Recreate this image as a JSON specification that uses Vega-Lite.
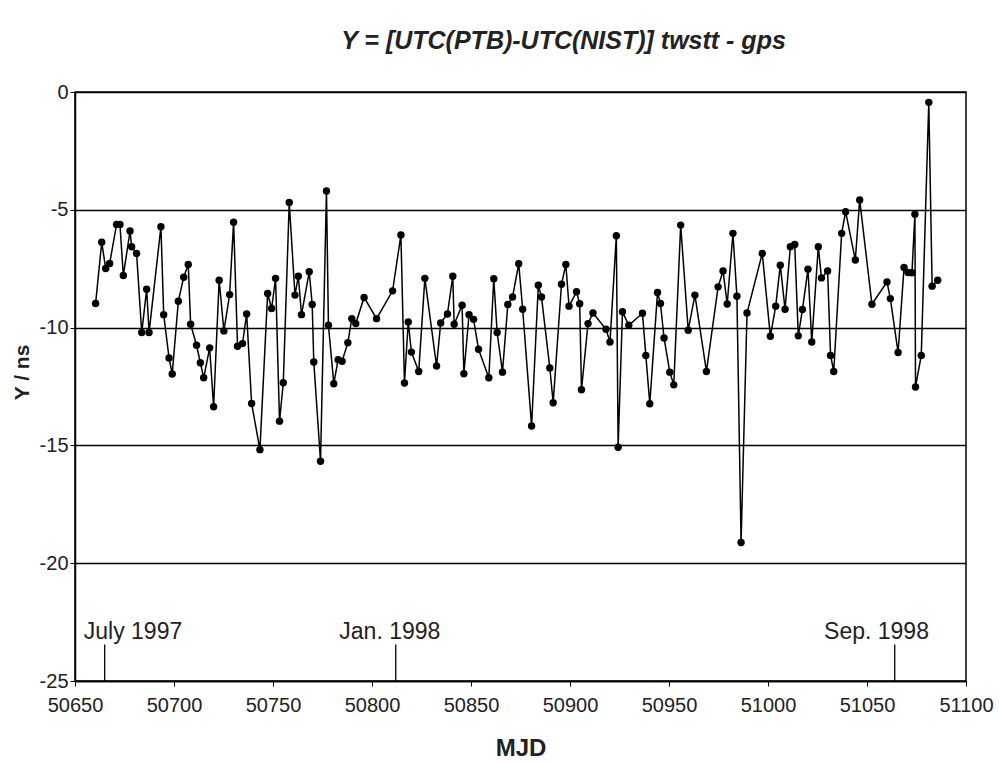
{
  "$schema": "https://vega.github.io/schema/vega-lite/v6.json",
  "autosize": {"type": "none"},
  "padding": {"left": 75, "top": 92, "right": 33, "bottom": 82},
  "width": 891,
  "height": 589,
  "background": "white",
  "title": {
    "text": "Y = [UTC(PTB)-UTC(NIST)] twstt - gps",
    "font": "Liberation Sans",
    "fontSize": 25,
    "fontWeight": "bold",
    "fontStyle": "italic",
    "color": "#222",
    "anchor": "middle",
    "dx": 43,
    "offset": 28
  },
  "config": {
    "view": {"stroke": "black", "strokeWidth": 1.5},
    "font": "Liberation Sans"
  },
  "datasets": {
    "series": [
      {"mjd": 50660.4, "y": -8.98},
      {"mjd": 50663.5, "y": -6.38},
      {"mjd": 50665.5, "y": -7.49},
      {"mjd": 50667.5, "y": -7.28},
      {"mjd": 50671.0, "y": -5.62},
      {"mjd": 50672.7, "y": -5.62},
      {"mjd": 50674.4, "y": -7.79},
      {"mjd": 50677.8, "y": -5.90},
      {"mjd": 50678.6, "y": -6.57},
      {"mjd": 50681.1, "y": -6.85},
      {"mjd": 50683.7, "y": -10.21},
      {"mjd": 50686.2, "y": -8.37},
      {"mjd": 50687.4, "y": -10.21},
      {"mjd": 50693.4, "y": -5.72},
      {"mjd": 50694.8, "y": -9.45},
      {"mjd": 50697.5, "y": -11.29},
      {"mjd": 50699.1, "y": -11.97},
      {"mjd": 50702.2, "y": -8.88},
      {"mjd": 50704.9, "y": -7.86},
      {"mjd": 50707.2, "y": -7.32},
      {"mjd": 50708.4, "y": -9.86},
      {"mjd": 50711.4, "y": -10.75},
      {"mjd": 50713.3, "y": -11.49},
      {"mjd": 50715.0, "y": -12.13},
      {"mjd": 50718.0, "y": -10.86},
      {"mjd": 50720.0, "y": -13.36},
      {"mjd": 50722.8, "y": -7.99},
      {"mjd": 50725.2, "y": -10.14},
      {"mjd": 50728.1, "y": -8.60},
      {"mjd": 50730.1, "y": -5.53},
      {"mjd": 50732.1, "y": -10.79},
      {"mjd": 50734.6, "y": -10.68},
      {"mjd": 50736.7, "y": -9.42},
      {"mjd": 50739.2, "y": -13.22},
      {"mjd": 50743.4, "y": -15.18},
      {"mjd": 50747.3, "y": -8.55},
      {"mjd": 50749.3, "y": -9.19},
      {"mjd": 50751.3, "y": -7.91},
      {"mjd": 50753.3, "y": -13.97},
      {"mjd": 50755.2, "y": -12.34},
      {"mjd": 50758.2, "y": -4.69},
      {"mjd": 50761.1, "y": -8.62},
      {"mjd": 50762.8, "y": -7.82},
      {"mjd": 50764.4, "y": -9.45},
      {"mjd": 50768.3, "y": -7.63},
      {"mjd": 50769.8, "y": -9.02},
      {"mjd": 50770.6, "y": -11.46},
      {"mjd": 50774.0, "y": -15.67},
      {"mjd": 50777.0, "y": -4.20},
      {"mjd": 50778.0, "y": -9.90},
      {"mjd": 50780.7, "y": -12.38},
      {"mjd": 50782.9, "y": -11.36},
      {"mjd": 50784.9, "y": -11.43},
      {"mjd": 50787.8, "y": -10.64},
      {"mjd": 50789.8, "y": -9.62},
      {"mjd": 50791.8, "y": -9.83},
      {"mjd": 50796.0, "y": -8.72},
      {"mjd": 50802.3, "y": -9.62},
      {"mjd": 50810.4, "y": -8.44},
      {"mjd": 50814.6, "y": -6.07},
      {"mjd": 50816.4, "y": -12.35},
      {"mjd": 50818.3, "y": -9.76},
      {"mjd": 50819.9, "y": -11.04},
      {"mjd": 50823.6, "y": -11.86},
      {"mjd": 50826.7, "y": -7.91},
      {"mjd": 50832.6, "y": -11.63},
      {"mjd": 50834.7, "y": -9.80},
      {"mjd": 50838.1, "y": -9.42},
      {"mjd": 50840.8, "y": -7.82},
      {"mjd": 50841.5, "y": -9.86},
      {"mjd": 50845.5, "y": -9.05},
      {"mjd": 50846.4, "y": -11.96},
      {"mjd": 50849.0, "y": -9.45},
      {"mjd": 50851.3, "y": -9.65},
      {"mjd": 50853.8, "y": -10.92},
      {"mjd": 50859.0, "y": -12.13},
      {"mjd": 50861.5, "y": -7.93},
      {"mjd": 50863.2, "y": -10.21},
      {"mjd": 50865.9, "y": -11.89},
      {"mjd": 50868.6, "y": -9.02},
      {"mjd": 50871.0, "y": -8.70},
      {"mjd": 50874.1, "y": -7.29},
      {"mjd": 50876.1, "y": -9.22},
      {"mjd": 50880.6, "y": -14.18},
      {"mjd": 50884.0, "y": -8.20},
      {"mjd": 50885.6, "y": -8.70},
      {"mjd": 50889.8, "y": -11.71},
      {"mjd": 50891.5, "y": -13.19},
      {"mjd": 50895.7, "y": -8.16},
      {"mjd": 50897.9, "y": -7.32},
      {"mjd": 50899.5, "y": -9.09},
      {"mjd": 50903.3, "y": -8.48},
      {"mjd": 50904.9, "y": -8.99},
      {"mjd": 50905.8, "y": -12.64},
      {"mjd": 50909.1, "y": -9.83},
      {"mjd": 50911.6, "y": -9.38},
      {"mjd": 50918.2, "y": -10.07},
      {"mjd": 50920.2, "y": -10.61},
      {"mjd": 50923.4, "y": -6.10},
      {"mjd": 50924.3, "y": -15.08},
      {"mjd": 50926.5, "y": -9.33},
      {"mjd": 50929.7, "y": -9.90},
      {"mjd": 50936.6, "y": -9.39},
      {"mjd": 50938.3, "y": -11.18},
      {"mjd": 50940.3, "y": -13.23},
      {"mjd": 50944.2, "y": -8.51},
      {"mjd": 50945.7, "y": -8.98},
      {"mjd": 50947.5, "y": -10.44},
      {"mjd": 50950.4, "y": -11.89},
      {"mjd": 50952.4, "y": -12.43},
      {"mjd": 50955.9, "y": -5.65},
      {"mjd": 50959.7, "y": -10.11},
      {"mjd": 50963.1, "y": -8.62},
      {"mjd": 50968.9, "y": -11.86},
      {"mjd": 50974.8, "y": -8.27},
      {"mjd": 50977.3, "y": -7.60},
      {"mjd": 50979.4, "y": -9.00},
      {"mjd": 50982.3, "y": -6.00},
      {"mjd": 50984.3, "y": -8.67},
      {"mjd": 50986.4, "y": -19.12},
      {"mjd": 50989.4, "y": -9.38},
      {"mjd": 50997.1, "y": -6.85},
      {"mjd": 51001.2, "y": -10.37},
      {"mjd": 51003.9, "y": -9.09},
      {"mjd": 51006.2, "y": -7.35},
      {"mjd": 51008.6, "y": -9.22},
      {"mjd": 51011.3, "y": -6.57},
      {"mjd": 51013.5, "y": -6.47},
      {"mjd": 51015.3, "y": -10.35},
      {"mjd": 51017.4, "y": -9.23},
      {"mjd": 51020.2, "y": -7.52},
      {"mjd": 51022.1, "y": -10.61},
      {"mjd": 51025.4, "y": -6.57},
      {"mjd": 51027.0, "y": -7.89},
      {"mjd": 51030.1, "y": -7.60},
      {"mjd": 51031.6, "y": -11.18},
      {"mjd": 51033.2, "y": -11.86},
      {"mjd": 51037.2, "y": -6.00},
      {"mjd": 51039.2, "y": -5.08},
      {"mjd": 51044.1, "y": -7.13},
      {"mjd": 51046.3, "y": -4.58},
      {"mjd": 51052.5, "y": -9.01},
      {"mjd": 51060.1, "y": -8.06},
      {"mjd": 51061.8, "y": -8.77},
      {"mjd": 51065.7, "y": -11.06},
      {"mjd": 51068.7, "y": -7.45},
      {"mjd": 51070.7, "y": -7.66},
      {"mjd": 51072.7, "y": -7.67},
      {"mjd": 51074.2, "y": -5.19},
      {"mjd": 51074.5, "y": -12.52},
      {"mjd": 51077.4, "y": -11.18},
      {"mjd": 51081.2, "y": -0.44},
      {"mjd": 51082.9, "y": -8.24},
      {"mjd": 51085.7, "y": -7.99}
    ],
    "markers": [
      {"mjd": 50665, "label": "July 1997", "label_mjd": 50679.3, "top": -23.45, "bottom": -25, "label_y": -23.2},
      {"mjd": 50812, "label": "Jan. 1998", "label_mjd": 50809.0, "top": -23.45, "bottom": -25, "label_y": -23.2},
      {"mjd": 51064, "label": "Sep. 1998", "label_mjd": 51054.8, "top": -23.45, "bottom": -25, "label_y": -23.2}
    ]
  },
  "layer": [
    {
      "data": {"name": "series"},
      "mark": {"type": "line", "color": "black", "strokeWidth": 1.5},
      "encoding": {
        "x": {
          "field": "mjd", "type": "quantitative",
          "scale": {"domain": [50650, 51100], "nice": false, "zero": false},
          "axis": {
            "title": "MJD",
            "values": [50650, 50700, 50750, 50800, 50850, 50900, 50950, 51000, 51050, 51100],
            "format": "d",
            "labelFlush": false,
            "labelOverlap": false,
            "grid": false,
            "domain": true,
            "domainColor": "black",
            "domainWidth": 1.5,
            "tickColor": "black",
            "tickSize": 5,
            "labelFont": "Liberation Sans",
            "labelFontSize": 20,
            "labelColor": "#222",
            "labelPadding": 9,
            "titleFont": "Liberation Sans",
            "titleFontSize": 24,
            "titleFontWeight": "bold",
            "titleColor": "#222",
            "titlePadding": 21
          }
        },
        "y": {
          "field": "y", "type": "quantitative",
          "scale": {"domain": [-25, 0], "nice": false, "zero": false},
          "axis": {
            "title": "Y / ns",
            "values": [0, -5, -10, -15, -20, -25],
            "labelExpr": "replace(datum.label, '\u2212', '-')",
            "grid": true,
            "gridColor": "black",
            "gridWidth": 1.5,
            "gridOpacity": 1,
            "domain": true,
            "domainColor": "black",
            "domainWidth": 1.5,
            "tickColor": "black",
            "tickSize": 5,
            "labelFont": "Liberation Sans",
            "labelFontSize": 20,
            "labelColor": "#222",
            "labelPadding": 2,
            "titleFont": "Liberation Sans",
            "titleFontSize": 21,
            "titleFontWeight": "bold",
            "titleColor": "#222",
            "titleX": -53,
            "titleY": 280,
            "titleAngle": -90,
            "titleAlign": "center",
            "titleBaseline": "middle"
          }
        }
      }
    },
    {
      "data": {"name": "series"},
      "mark": {"type": "point", "filled": true, "color": "black", "opacity": 1, "size": 55},
      "encoding": {
        "x": {"field": "mjd", "type": "quantitative"},
        "y": {"field": "y", "type": "quantitative"}
      }
    },
    {
      "data": {"name": "markers"},
      "mark": {"type": "rule", "color": "black", "strokeWidth": 1.3},
      "encoding": {
        "x": {"field": "mjd", "type": "quantitative"},
        "y": {"field": "top", "type": "quantitative"},
        "y2": {"field": "bottom"}
      }
    },
    {
      "data": {"name": "markers"},
      "mark": {"type": "text", "font": "Liberation Sans", "fontSize": 23, "color": "#222", "align": "center", "baseline": "alphabetic"},
      "encoding": {
        "x": {"field": "label_mjd", "type": "quantitative"},
        "y": {"field": "label_y", "type": "quantitative"},
        "text": {"field": "label"}
      }
    }
  ]
}
